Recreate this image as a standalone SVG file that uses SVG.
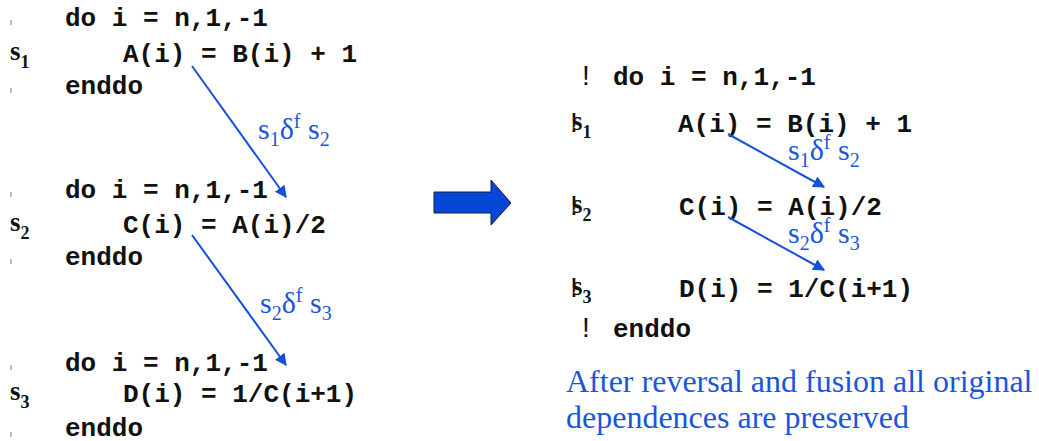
<svg xmlns="http://www.w3.org/2000/svg" width="1039" height="441" viewBox="0 0 1039 441">
<defs>
<marker id="ah" viewBox="0 0 10 10" refX="9" refY="5" markerWidth="6" markerHeight="6" markerUnits="strokeWidth" orient="auto">
<path d="M0,0 L10,5 L0,10 z" fill="#1550dc"/>
</marker>
<style>
.code{font-family:"Liberation Mono","Courier New",monospace;font-weight:bold;font-size:26px;fill:#111}
.lbl{font-family:"Liberation Serif","Times New Roman",serif;font-weight:bold;font-size:27px;fill:#111}
.sub{font-size:18px}
.dep{font-family:"Liberation Serif","Times New Roman",serif;font-size:30px;fill:#1a56db}
.dsub{font-size:20px}
.bang{font-family:"Liberation Sans",Arial,sans-serif;font-size:28px;fill:#111}
.tick{fill:#bdbdbd}
.conn{stroke:#1550dc;stroke-width:2;fill:none;marker-end:url(#ah)}
.note{font-family:"Liberation Serif","Times New Roman",serif;font-size:32px;fill:#1a56db}
</style>
</defs>

<g id="left-loop1">
<rect class="tick" x="10" y="20" width="2" height="5"/>
<rect class="tick" x="10" y="88" width="2" height="5"/>
<text class="code" x="65" y="26">do i = n,1,-1</text>
<text class="lbl" x="10" y="60">s<tspan class="sub" dy="8">1</tspan></text>
<text class="code" x="123" y="62">A(i) = B(i) + 1</text>
<text class="code" x="65" y="94">enddo</text>
</g>

<g id="left-loop2">
<rect class="tick" x="10" y="192" width="2" height="5"/>
<rect class="tick" x="10" y="259" width="2" height="5"/>
<text class="code" x="65" y="198">do i = n,1,-1</text>
<text class="lbl" x="10" y="231">s<tspan class="sub" dy="8">2</tspan></text>
<text class="code" x="123" y="233">C(i) = A(i)/2</text>
<text class="code" x="65" y="265">enddo</text>
</g>

<g id="left-loop3">
<rect class="tick" x="10" y="365" width="2" height="5"/>
<rect class="tick" x="10" y="432" width="2" height="5"/>
<text class="code" x="65" y="371">do i = n,1,-1</text>
<text class="lbl" x="10" y="400">s<tspan class="sub" dy="8">3</tspan></text>
<text class="code" x="123" y="402">D(i) = 1/C(i+1)</text>
<text class="code" x="65" y="436">enddo</text>
</g>

<g id="transform-arrow">
<polygon points="434,192 491,192 491,180 511,203 491,225 491,213 434,213" fill="#0647d8" stroke="#1a1a3a" stroke-width="1"/>
</g>

<g id="right-loop">
<text class="bang" x="582" y="85">!</text>
<text class="code" x="613" y="85">do i = n,1,-1</text>
<text class="bang" x="570" y="132">!</text>
<text class="lbl" x="572" y="130">s<tspan class="sub" dy="8">1</tspan></text>
<text class="code" x="678" y="132">A(i) = B(i) + 1</text>
<text class="bang" x="570" y="215">!</text>
<text class="lbl" x="572" y="213">s<tspan class="sub" dy="8">2</tspan></text>
<text class="code" x="679" y="215">C(i) = A(i)/2</text>
<text class="bang" x="570" y="297">!</text>
<text class="lbl" x="572" y="295">s<tspan class="sub" dy="8">3</tspan></text>
<text class="code" x="679" y="297">D(i) = 1/C(i+1)</text>
<text class="bang" x="582" y="337">!</text>
<text class="code" x="613" y="337">enddo</text>
</g>

<g id="connectors">
<line class="conn" x1="192" y1="66" x2="286" y2="197"/>
<line class="conn" x1="192" y1="235" x2="286" y2="365"/>
<line class="conn" x1="728" y1="134" x2="824" y2="187"/>
<line class="conn" x1="728" y1="217" x2="824" y2="270"/>
</g>

<g id="labels">
<text class="dep" x="258" y="139">s<tspan class="dsub" dy="7">1</tspan><tspan dy="-7">δ</tspan><tspan class="dsub" dy="-11">f</tspan><tspan dy="11"> s</tspan><tspan class="dsub" dy="7">2</tspan></text>
<text class="dep" x="260" y="313">s<tspan class="dsub" dy="7">2</tspan><tspan dy="-7">δ</tspan><tspan class="dsub" dy="-11">f</tspan><tspan dy="11"> s</tspan><tspan class="dsub" dy="7">3</tspan></text>
<text class="dep" x="788" y="160">s<tspan class="dsub" dy="7">1</tspan><tspan dy="-7">δ</tspan><tspan class="dsub" dy="-11">f</tspan><tspan dy="11"> s</tspan><tspan class="dsub" dy="7">2</tspan></text>
<text class="dep" x="788" y="243">s<tspan class="dsub" dy="7">2</tspan><tspan dy="-7">δ</tspan><tspan class="dsub" dy="-11">f</tspan><tspan dy="11"> s</tspan><tspan class="dsub" dy="7">3</tspan></text>
</g>

<g id="note">
<text class="note" x="566" y="392">After reversal and fusion all original</text>
<text class="note" x="566" y="428">dependences are preserved</text>
</g>
</svg>
